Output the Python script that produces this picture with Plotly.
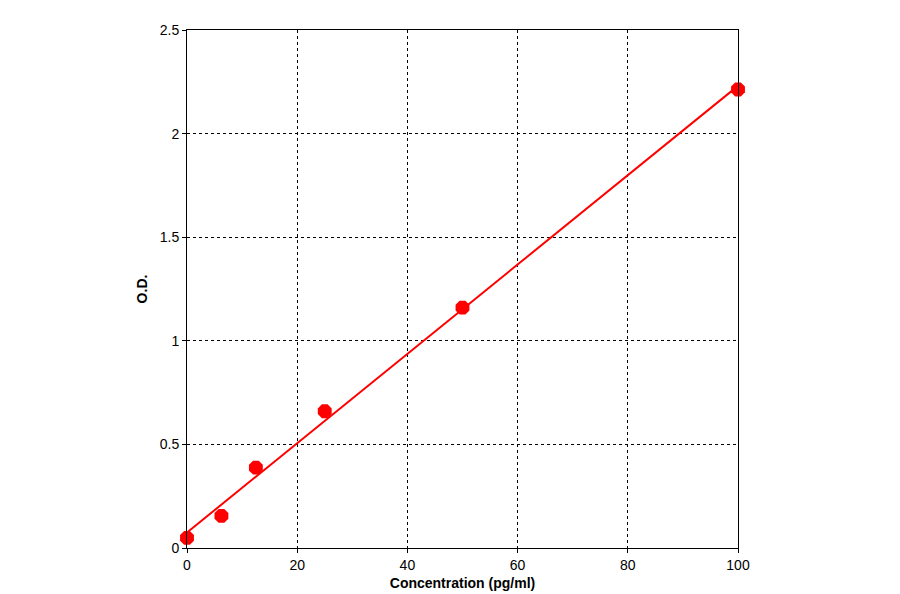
import numpy as np
import plotly.graph_objects as go

conc = [0, 6.25, 12.5, 25, 50, 100]
od = [0.049, 0.155, 0.388, 0.66, 1.16, 2.213]

slope, intercept = np.polyfit(conc, od, 1)
xl = np.array([0, 100])
yl = slope * xl + intercept

fig = go.Figure()
fig.add_trace(go.Scatter(x=xl, y=yl, mode="lines", line=dict(color="#ff0000", width=2), hoverinfo="skip"))
fig.add_trace(go.Scatter(x=conc, y=od, mode="markers", cliponaxis=False,
                         marker=dict(color="#ff0000", size=15, symbol="octagon")))

axis_common = dict(showline=True, linecolor="black", linewidth=1, mirror=True,
                   showgrid=True, gridcolor="black", griddash="3px,3px", gridwidth=1,
                   ticks="outside", ticklen=4, tickcolor="black", zeroline=False,
                   tickfont=dict(family="Liberation Sans, Arial", size=14, color="black"))
fig.update_xaxes(range=[0, 100], dtick=20, title=dict(text="<b>Concentration (pg/ml)</b>", standoff=6,
                 font=dict(family="Liberation Sans, Arial", size=14, color="black")), **axis_common)
fig.update_yaxes(range=[0, 2.5], dtick=0.5, title=dict(text="<b>O.D.</b>", standoff=8,
                 font=dict(family="Liberation Sans, Arial", size=14, color="black")), **axis_common)
fig.update_layout(width=900, height=594, showlegend=False, plot_bgcolor="white", paper_bgcolor="white",
                  margin=dict(l=179, r=170, t=22, b=54))
fig.write_html("out.html")
